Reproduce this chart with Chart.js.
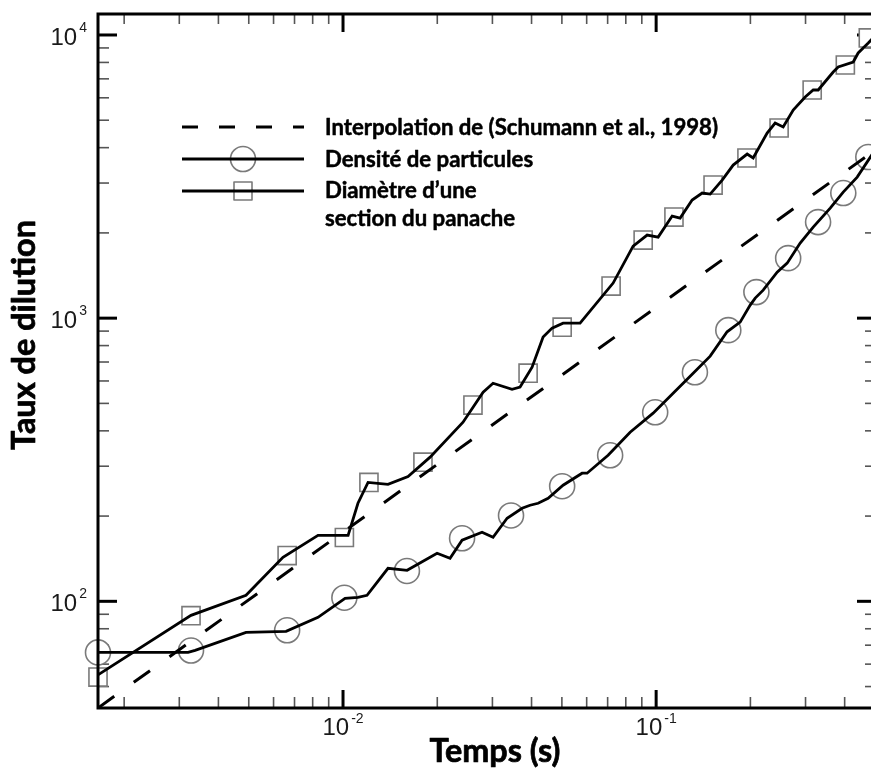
<!DOCTYPE html>
<html><head><meta charset="utf-8">
<script src="https://cdn.jsdelivr.net/npm/chart.js@4.4.1/dist/chart.umd.min.js"></script>
<style>html,body{margin:0;padding:0;background:#fff;overflow:hidden}canvas{display:block}</style>
</head><body>
<canvas id="c" width="871" height="769" style="width:871px;height:769px"></canvas>
<script>
// Axis ranges (plot continues slightly past the right edge of the picture)
const X_MIN = 0.00165, X_MAX = 0.4855;
const Y_MIN = 42, Y_MAX = 11860;

// Tick labels
const xTickValues = [0.01, 0.1];
const xTickLabels = [['10', '-2'], ['10', '-1']];
const yTickValues = [100, 1000, 10000];
const yTickLabels = [['10', '2'], ['10', '3'], ['10', '4']];

// Series names
const seriesNames = ['Interpolation de (Schumann et al., 1998)', 'Densité de particules', ['Diamètre d\u2019une', 'section du panache']];
const xTitle = 'Temps (s)';
const yTitle = 'Taux de dilution';

// Interpolation (Schumann et al., 1998)
const dashTime = [0.00165, 0.5];
const dashVal = [42, 3918];

// Diamètre d'une section du panache (curve)
const squareLineTime = [0.00165,0.00327,0.0049,0.00643,0.00832,0.01038,0.01116,0.01202,0.01392,0.01613,0.01897,0.02417,0.02802,0.03014,0.03466,0.03676,0.04016,0.04355,0.04652,0.05044,0.05716,0.07289,0.08443,0.09359,0.1015,0.1125,0.1193,0.1303,0.1403,0.1488,0.1625,0.1762,0.1953,0.2041,0.2262,0.2399,0.2545,0.274,0.2992,0.3174,0.3293,0.3677,0.3815,0.426,0.4418,0.4758,0.5];
const squareLineVal = [55,89.2,105,143,171,171,222,263,259,276,323,429,548,589,561,571,671,857,922,960,960,1330,1796,1965,1933,2293,2256,2612,2765,2743,3073,3472,3797,3677,4505,4887,4731,5433,6038,6393,6393,7401,7708,8029,8640,9370,9920];
// Diamètre markers
const squareMarkTime = [0.00165,0.00327,0.00663,0.0101,0.0121,0.0180,0.0260,0.0390,0.0501,0.0718,0.0909,0.114,0.152,0.195,0.247,0.315,0.402,0.476];
const squareMarkVal = [54,89,145,168,263,310,493,639,929,1298,1886,2275,2951,3677,4693,6393,7834,9760];

// Densité de particules (curve)
const circleLineTime = [0.00165,0.0032,0.00337,0.0049,0.00658,0.00832,0.01015,0.01116,0.01193,0.01392,0.01602,0.01997,0.02197,0.024,0.0278,0.03014,0.03342,0.03731,0.03957,0.04198,0.04519,0.05044,0.058,0.06018,0.07023,0.08259,0.09781,0.1133,0.1313,0.1488,0.1685,0.1855,0.1997,0.2072,0.2197,0.2435,0.2621,0.2884,0.3174,0.3597,0.3958,0.4386,0.5];
const circleLineVal = [66,66,67.1,77.7,78.3,87.8,102.5,103.3,105,130.8,128.7,147.8,141.9,164.3,175.3,168.3,196.5,213.1,218.4,222,231.2,257,283.4,283.4,328,395.6,461.7,543.2,639.2,734.2,895,968,1112,1177,1256,1454,1564,1841,2097,2447,2788,3149,3923];
// Densité markers
const circleMarkTime = [0.00165,0.00327,0.00663,0.0101,0.0160,0.0240,0.0344,0.0501,0.0713,0.0993,0.133,0.170,0.209,0.264,0.329,0.396,0.476];
const circleMarkVal = [66,67,79,103,128,167,201,255,328,465,644,907,1236,1629,2184,2765,3707];

const pts = (xs, ys) => xs.map((x, i) => ({x: x, y: ys[i]}));

const MARK_COLOR = '#7a7a7a';
const TICK_FONT = "'Liberation Sans', Arial, sans-serif";
const BOLD_FONT = "Lato, 'Open Sans', sans-serif";
const FRAME_OVERHANG = 4; // right frame lies just beyond the picture edge

function fitFont(ctx, text, target, base) {
  ctx.font = 'bold ' + base + 'px ' + BOLD_FONT;
  const w = ctx.measureText(text).width;
  return base * target / w;
}
function heavyText(ctx, text, x, y) {
  ctx.fillText(text, x, y);
  ctx.strokeText(text, x, y);
}

const framePlugin = {
  id: 'frame',
  beforeDatasetsDraw(chart) {
    const ctx = chart.ctx, a = chart.chartArea;
    const xs = chart.scales.x, ys = chart.scales.y;
    const L = a.left, R = a.right + FRAME_OVERHANG, T = a.top, B = a.bottom;
    const line = (x1, y1, x2, y2) => { ctx.beginPath(); ctx.moveTo(x1, y1); ctx.lineTo(x2, y2); ctx.stroke(); };
    ctx.save();
    ctx.lineCap = 'butt';
    // minor ticks
    ctx.strokeStyle = '#555'; ctx.lineWidth = 1.6;
    for (let e = -3; e <= 0; e++) for (let m = 2; m <= 9; m++) {
      const v = m * Math.pow(10, e);
      if (v <= X_MIN || v >= X_MAX) continue;
      const px = xs.getPixelForValue(v);
      line(px, B, px, B - 11); line(px, T, px, T + 10);
    }
    for (let e = 1; e <= 4; e++) for (let m = 2; m <= 9; m++) {
      const v = m * Math.pow(10, e);
      if (v <= Y_MIN || v >= Y_MAX) continue;
      const py = ys.getPixelForValue(v);
      line(L, py, L + 11, py); line(R, py, R - 10, py);
    }
    // major ticks
    ctx.strokeStyle = '#000'; ctx.lineWidth = 3;
    xTickValues.forEach(v => { const px = xs.getPixelForValue(v); line(px, B, px, B - 18); line(px, T, px, T + 18); });
    yTickValues.forEach(v => { const py = ys.getPixelForValue(v); line(L, py, L + 19, py); line(R, py, R - 18, py); });
    ctx.restore();
  },
  afterDatasetsDraw(chart) {
    const ctx = chart.ctx, a = chart.chartArea;
    ctx.save();
    ctx.strokeStyle = '#000'; ctx.lineWidth = 3;
    ctx.strokeRect(a.left, a.top, a.right + FRAME_OVERHANG - a.left, a.bottom - a.top);
    ctx.restore();
  },
  afterDraw(chart) {
    const ctx = chart.ctx;
    const xs = chart.scales.x, ys = chart.scales.y;
    ctx.save();
    ctx.fillStyle = '#1a1a1a';
    ctx.textBaseline = 'alphabetic';
    // tick labels
    const bigF = '24px ' + TICK_FONT, supF = '14px ' + TICK_FONT;
    yTickValues.forEach((v, i) => {
      const py = ys.getPixelForValue(v);
      const [b, s] = yTickLabels[i];
      ctx.font = supF; const sw = ctx.measureText(s).width;
      ctx.font = bigF; const bw = ctx.measureText(b).width;
      const right = 87;
      ctx.textAlign = 'left';
      ctx.font = bigF; ctx.fillText(b, right - sw - 2 - bw, py + 10);
      ctx.font = supF; ctx.fillText(s, right - sw, py - 3);
    });
    xTickValues.forEach((v, i) => {
      const px = xs.getPixelForValue(v);
      const [b, s] = xTickLabels[i];
      ctx.font = supF; const sw = ctx.measureText(s).width;
      ctx.font = bigF; const bw = ctx.measureText(b).width;
      const tot = bw + 2 + sw, x0 = px - tot / 2;
      ctx.textAlign = 'left';
      ctx.font = bigF; ctx.fillText(b, x0, 735);
      ctx.font = supF; ctx.fillText(s, x0 + bw + 2, 723);
    });
    // axis titles
    ctx.fillStyle = '#000'; ctx.strokeStyle = '#000'; ctx.lineWidth = 0.7; ctx.lineJoin = 'round';
    let fs = fitFont(ctx, xTitle, 131, 28);
    ctx.font = 'bold ' + fs.toFixed(2) + 'px ' + BOLD_FONT;
    ctx.textAlign = 'center';
    heavyText(ctx, xTitle, 495, 762);
    fs = fitFont(ctx, yTitle, 230, 28);
    ctx.save();
    ctx.translate(35, 335);
    ctx.rotate(-Math.PI / 2);
    ctx.font = 'bold ' + fs.toFixed(2) + 'px ' + BOLD_FONT;
    ctx.textAlign = 'center';
    heavyText(ctx, yTitle, 0, 0);
    ctx.restore();
    // legend
    const lx1 = 182, lx2 = 304, mx = 243, tx = 325;
    ctx.strokeStyle = '#000'; ctx.lineWidth = 3;
    ctx.beginPath(); ctx.setLineDash([16, 21]); ctx.moveTo(lx1, 127); ctx.lineTo(lx2, 127); ctx.stroke();
    ctx.setLineDash([]);
    // circle row
    ctx.lineWidth = 1.6; ctx.strokeStyle = MARK_COLOR; ctx.fillStyle = '#fff';
    ctx.beginPath(); ctx.arc(mx, 159, 12.5, 0, Math.PI * 2); ctx.fill(); ctx.stroke();
    ctx.strokeStyle = '#000'; ctx.lineWidth = 3;
    ctx.beginPath(); ctx.moveTo(lx1, 159); ctx.lineTo(lx2, 159); ctx.stroke();
    // square row
    ctx.lineWidth = 1.6; ctx.strokeStyle = MARK_COLOR;
    ctx.fillRect(mx - 9, 191 - 9, 18, 18); ctx.strokeRect(mx - 9, 191 - 9, 18, 18);
    ctx.strokeStyle = '#000'; ctx.lineWidth = 3;
    ctx.beginPath(); ctx.moveTo(lx1, 191); ctx.lineTo(lx2, 191); ctx.stroke();
    // legend text
    const lf = fitFont(ctx, seriesNames[0], 393, 19);
    ctx.font = 'bold ' + lf.toFixed(2) + 'px ' + BOLD_FONT;
    ctx.fillStyle = '#000'; ctx.strokeStyle = '#000'; ctx.lineWidth = 0.5; ctx.textAlign = 'left';
    heavyText(ctx, seriesNames[0], tx, 135);
    heavyText(ctx, seriesNames[1], tx, 167);
    heavyText(ctx, seriesNames[2][0], tx, 198);
    heavyText(ctx, seriesNames[2][1], tx, 226);
    ctx.restore();
  }
};

new Chart(document.getElementById('c'), {
  type: 'scatter',
  data: {
    datasets: [
      { label: 'markers-circle', data: pts(circleMarkTime, circleMarkVal), showLine: false,
        pointStyle: 'circle', pointRadius: 12.5, pointBorderWidth: 1.6, pointBorderColor: MARK_COLOR,
        pointBackgroundColor: '#fff', clip: false, order: 5 },
      { label: 'markers-square', data: pts(squareMarkTime, squareMarkVal), showLine: false,
        pointStyle: 'rect', pointRadius: 12.8, pointBorderWidth: 1.6, pointBorderColor: MARK_COLOR,
        pointBackgroundColor: '#fff', clip: false, order: 4 },
      { label: seriesNames[1], data: pts(circleLineTime, circleLineVal), showLine: true, pointRadius: 0,
        borderColor: '#000', borderWidth: 2.8, tension: 0, order: 2 },
      { label: 'Diamètre d\u2019une section du panache', data: pts(squareLineTime, squareLineVal), showLine: true, pointRadius: 0,
        borderColor: '#000', borderWidth: 2.8, tension: 0, order: 2 },
      { label: seriesNames[0], data: pts(dashTime, dashVal), showLine: true, pointRadius: 0,
        borderColor: '#000', borderWidth: 3, borderDash: [20, 24], order: 1 }
    ]
  },
  options: {
    responsive: false,
    animation: false,
    devicePixelRatio: 1,
    layout: { autoPadding: false, padding: { left: 98, top: 14, right: 0, bottom: 61 } },
    scales: {
      x: { type: 'logarithmic', min: X_MIN, max: X_MAX, display: false },
      y: { type: 'logarithmic', min: Y_MIN, max: Y_MAX, display: false }
    },
    plugins: { legend: { display: false }, tooltip: { enabled: false }, title: { display: false } },
    events: []
  },
  plugins: [framePlugin]
});
</script>
</body></html>
